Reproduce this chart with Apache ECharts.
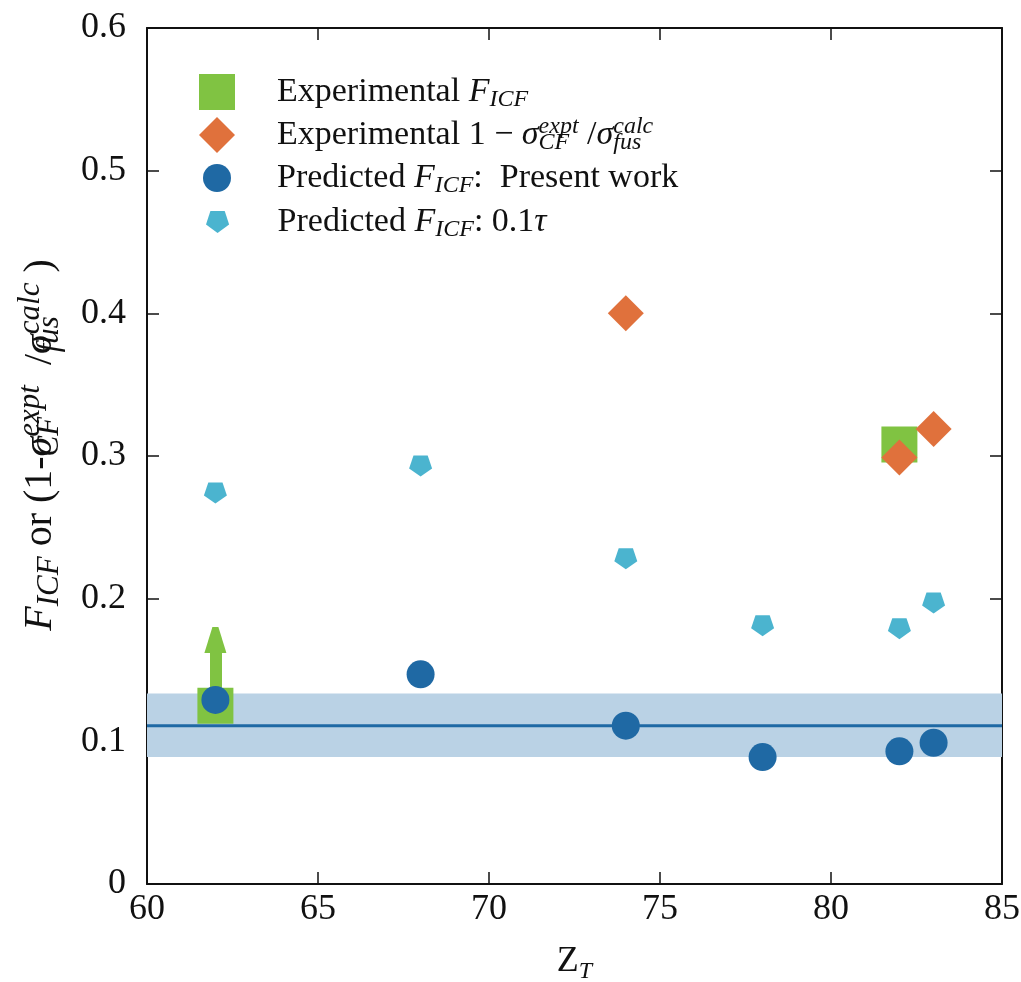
<!DOCTYPE html>
<html>
<head>
<meta charset="utf-8">
<script src="https://cdn.jsdelivr.net/npm/echarts@6/dist/echarts.min.js"></script>
<style>
    html, body { margin: 0; padding: 0; background: #fff; }
    #chart { width: 1021px; height: 982px; }
</style>
</head>
<body>
<div id="chart"></div>
<script>
// values
var zTarget = [62, 68, 74, 78, 82, 83];
var predPresent = [0.129, 0.147, 0.111, 0.089, 0.093, 0.099];
var predTau = [0.274, 0.293, 0.228, 0.181, 0.179, 0.197];

var expFicfZ = [62, 82];
var expFicf = [0.125, 0.308];

var expRatioZ = [74, 82, 83];
var expRatio = [0.40, 0.299, 0.319];

// lower limit arrow on the Z=62 point
var limitFrom = [62, 0.137];
var limitTo = [62, 0.171];

// mean of present work with its band
var meanZ = [60, 85];
var meanValue = 0.111;
var bandLow = 0.089;
var bandHigh = 0.1335;

var FONT = '"Liberation Serif", "DejaVu Serif", serif';
var PENTAGON = 'path://M4.12,1.91 L15.88,1.91 L19.51,13.09 L10,20 L0.49,13.09 Z';

var labels = {
    expF: 'Experimental {i|F}{sub|ICF}',
    expRatio: 'Experimental 1 \u2212 {i|\u03c3}{sub0|CF}{sup|expt}{n| /}{i|\u03c3}{sub0|fus}{sup|calc}',
    predPresent: 'Predicted {i|F}{sub|ICF}{n|:  Present work}',
    predTau: 'Predicted {i|F}{sub|ICF}{n|: 0.1}{i|\u03c4}'
};

function richStyles(size, subSize, lineHeight) {
    return {
        n: { fontFamily: FONT, fontSize: size, color: '#111', lineHeight: lineHeight },
        i: { fontFamily: FONT, fontSize: size, color: '#111', fontStyle: 'italic', lineHeight: lineHeight },
        sub: { fontFamily: FONT, fontSize: subSize, color: '#111', fontStyle: 'italic', lineHeight: subSize, verticalAlign: 'bottom' },
        sub0: { fontFamily: FONT, fontSize: subSize, color: '#111', fontStyle: 'italic', lineHeight: subSize, verticalAlign: 'bottom', width: 0 },
        sup: { fontFamily: FONT, fontSize: subSize, color: '#111', fontStyle: 'italic', lineHeight: subSize, verticalAlign: 'top' }
    };
}

function pairs(xs, ys) {
    return xs.map(function (x, i) { return [x, ys[i]]; });
}

// the legend box is aligned on its drawn content, so shift by half the icon
function legendItem(name, icon, size, top) {
    return {
        left: 217 - size / 2,
        top: top,
        padding: 0,
        orient: 'vertical',
        selectedMode: false,
        itemWidth: 110,
        itemHeight: size,
        symbolKeepAspect: true,
        data: [{ name: name, icon: icon }],
        formatter: function (n) { return labels[n]; },
        textStyle: {
            fontFamily: FONT,
            fontSize: 34,
            color: '#111',
            lineHeight: 40,
            rich: richStyles(34, 24, 40)
        }
    };
}

var axisLineStyle = { color: '#111', width: 2 };
var tickStyle = { inside: true, length: 12, lineStyle: { color: '#111', width: 1.5 } };

var chart = echarts.init(document.getElementById('chart'), null, { renderer: 'canvas' });

chart.setOption({
    animation: false,
    backgroundColor: '#fff',
    grid: { left: 147, right: 19, top: 28, bottom: 98, containLabel: false, outerBoundsMode: 'none' },
    legend: [
        legendItem('expF', 'path://M0,0 L10,0 L10,10 L0,10 Z', 36, 72),
        legendItem('expRatio', 'path://M5,0 L10,5 L5,10 L0,5 Z', 36, 115),
        legendItem('predPresent', 'path://M0,5 A5,5 0 1,1 10,5 A5,5 0 1,1 0,5 Z', 28, 158),
        legendItem('predTau', PENTAGON, 22, 202)
    ],
    xAxis: [{
        type: 'value',
        min: 60,
        max: 85,
        interval: 5,
        position: 'bottom',
        axisLine: { show: true, onZero: false, lineStyle: axisLineStyle },
        axisTick: tickStyle,
        axisLabel: { fontFamily: FONT, fontSize: 36, color: '#111', margin: 8 },
        splitLine: { show: false },
        name: '{n|Z}{sub|T}',
        nameLocation: 'middle',
        nameGap: 56,
        nameTextStyle: { rich: richStyles(36, 24, 44) }
    }, {
        type: 'value',
        min: 60,
        max: 85,
        interval: 5,
        position: 'top',
        axisLine: { show: true, onZero: false, lineStyle: axisLineStyle },
        axisTick: tickStyle,
        axisLabel: { show: false },
        splitLine: { show: false }
    }],
    yAxis: [{
        type: 'value',
        min: 0,
        max: 0.6,
        interval: 0.1,
        position: 'left',
        axisLine: { show: true, onZero: false, lineStyle: axisLineStyle },
        axisTick: tickStyle,
        axisLabel: {
            fontFamily: FONT,
            fontSize: 36,
            color: '#111',
            margin: 21,
            formatter: function (v) { return v === 0 ? '0' : v.toFixed(1); }
        },
        splitLine: { show: false },
        name: '{i|F}{sub|ICF}{n| or (1-}{i|\u03c3}{sub0|CF}{sup|expt}{n|  /}{i|\u03c3}{sub0|fus}{sup|calc}{n| )}',
        nameLocation: 'middle',
        nameRotate: 90,
        nameGap: 82,
        nameTextStyle: { padding: [0, 0, 0, 22], rich: richStyles(40, 31, 50) }
    }, {
        type: 'value',
        min: 0,
        max: 0.6,
        interval: 0.1,
        position: 'right',
        axisLine: { show: true, onZero: false, lineStyle: axisLineStyle },
        axisTick: tickStyle,
        axisLabel: { show: false },
        splitLine: { show: false }
    }],
    series: [{
        name: 'mean',
        type: 'line',
        data: pairs(meanZ, [meanValue, meanValue]),
        symbol: 'none',
        silent: true,
        z: 1,
        lineStyle: { color: '#1f69a4', width: 3 },
        markArea: {
            silent: true,
            itemStyle: { color: '#bad2e5' },
            data: [[{ yAxis: bandLow }, { yAxis: bandHigh }]]
        }
    }, {
        name: 'expF',
        type: 'scatter',
        data: pairs(expFicfZ, expFicf),
        symbol: 'rect',
        symbolSize: 36,
        z: 3,
        itemStyle: { color: '#80c342', opacity: 1 },
        markLine: {
            silent: true,
            symbol: ['none', 'path://M8,0 L14,0 L22,26 L0,26 Z'],
            symbolSize: [22, 26],
            label: { show: false },
            lineStyle: { color: '#80c342', width: 12, type: 'solid' },
            itemStyle: { color: '#80c342' },
            data: [[{ coord: limitFrom }, { coord: limitTo }]]
        }
    }, {
        name: 'expRatio',
        type: 'scatter',
        data: pairs(expRatioZ, expRatio),
        symbol: 'diamond',
        symbolSize: 36,
        z: 4,
        itemStyle: { color: '#e0713c', opacity: 1 }
    }, {
        name: 'predPresent',
        type: 'scatter',
        data: pairs(zTarget, predPresent),
        symbol: 'circle',
        symbolSize: 28,
        z: 5,
        itemStyle: { color: '#1f69a4', opacity: 1 }
    }, {
        name: 'predTau',
        type: 'scatter',
        data: pairs(zTarget, predTau),
        symbol: PENTAGON,
        symbolSize: [23, 21],
        z: 5,
        itemStyle: { color: '#4bb4cf', opacity: 1 }
    }]
});
</script>
</body>
</html>
